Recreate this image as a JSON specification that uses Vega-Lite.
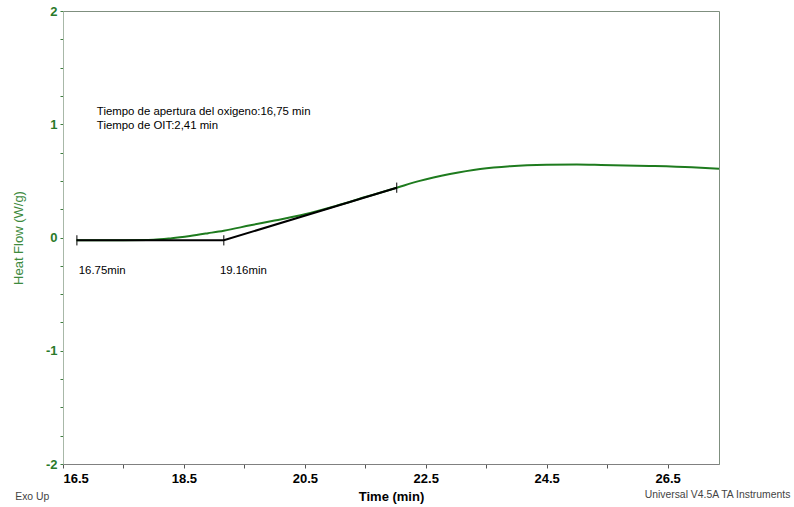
{
  "$schema": "https://vega.github.io/schema/vega-lite/v6.json",
  "width": 656,
  "height": 453,
  "autosize": {"type": "none"},
  "padding": {"left": 63, "top": 11, "right": 75, "bottom": 43},
  "background": "white",
  "config": {
    "font": "Liberation Sans",
    "view": {"stroke": "#7f8f7f", "strokeWidth": 1},
    "axis": {"grid": false}
  },
  "datasets": {
    "curve": [
      {"t": 16.72, "v": -0.025},
      {"t": 17.0, "v": -0.025},
      {"t": 17.5, "v": -0.024},
      {"t": 18.0, "v": -0.02},
      {"t": 18.3, "v": -0.006},
      {"t": 18.6, "v": 0.014},
      {"t": 18.9, "v": 0.038},
      {"t": 19.16, "v": 0.06},
      {"t": 19.6, "v": 0.108},
      {"t": 20.0, "v": 0.15},
      {"t": 20.5, "v": 0.205},
      {"t": 21.0, "v": 0.277},
      {"t": 21.5, "v": 0.357},
      {"t": 22.02, "v": 0.44},
      {"t": 22.4, "v": 0.5},
      {"t": 22.9, "v": 0.56},
      {"t": 23.4, "v": 0.605},
      {"t": 23.9, "v": 0.63},
      {"t": 24.5, "v": 0.642},
      {"t": 25.0, "v": 0.644},
      {"t": 25.4, "v": 0.641},
      {"t": 26.2, "v": 0.632},
      {"t": 26.9, "v": 0.62},
      {"t": 27.35, "v": 0.607}
    ],
    "tangent": [
      {"t": 16.73, "v": -0.025},
      {"t": 19.16, "v": -0.025},
      {"t": 22.02, "v": 0.44}
    ],
    "marks": [
      {"t": 16.73, "lo": -0.07, "hi": 0.02},
      {"t": 19.16, "lo": -0.07, "hi": 0.02},
      {"t": 22.02, "lo": 0.395, "hi": 0.485}
    ],
    "labels": [
      {"t": 16.76, "v": -0.296, "text": "16.75min"},
      {"t": 19.095, "v": -0.296, "text": "19.16min"},
      {"t": 17.06, "v": 1.108, "text": "Tiempo de apertura del oxigeno:16,75 min"},
      {"t": 17.06, "v": 0.985, "text": "Tiempo de OIT:2,41 min"}
    ],
    "footer": [
      {"t": 15.71, "v": -2.29, "text": "Exo Up"},
      {"t": 26.12, "v": -2.27, "text": "Universal V4.5A TA Instruments"}
    ]
  },
  "encoding": {
    "x": {
      "field": "t",
      "type": "quantitative",
      "scale": {"domain": [16.5, 27.35], "nice": false, "zero": false},
      "axis": {
        "title": "Time (min)",
        "titleFont": "Liberation Sans",
        "titleFontSize": 13,
        "titleFontWeight": "bold",
        "titleColor": "black",
        "titlePadding": 5,
        "values": [16.5, 17.5, 18.5, 19.5, 20.5, 21.5, 22.5, 23.5, 24.5, 25.5, 26.5],
        "labelExpr": "round(datum.value - 16.5) % 2 == 0 ? toString(datum.value) : ''",
        "labelFontSize": 13,
        "labelFontWeight": "bold",
        "labelColor": "black",
        "labelPadding": 4,
        "tickSize": 4,
        "tickColor": "#555555",
        "domainColor": "#808080"
      }
    },
    "y": {
      "field": "v",
      "type": "quantitative",
      "scale": {"domain": [-2, 2], "nice": false, "zero": false},
      "axis": {
        "title": "Heat Flow (W/g)",
        "titleFont": "Liberation Sans",
        "titleFontSize": 13,
        "titleFontWeight": "normal",
        "titleColor": "#3d8a3d",
        "titlePadding": 20,
        "values": [-2, -1.75, -1.5, -1.25, -1, -0.75, -0.5, -0.25, 0, 0.25, 0.5, 0.75, 1, 1.25, 1.5, 1.75, 2],
        "labelExpr": "datum.value % 1 == 0 ? toString(datum.value) : ''",
        "labelFontSize": 13,
        "labelFontWeight": "bold",
        "labelColor": "#2a7a2a",
        "labelPadding": 3,
        "tickSize": 3,
        "tickColor": "#3f7f3f",
        "domainColor": "#a8b8a8"
      }
    }
  },
  "layer": [
    {
      "data": {"name": "curve"},
      "mark": {"type": "line", "color": "#1e7b1e", "strokeWidth": 2, "interpolate": "monotone"},
      "encoding": {}
    },
    {
      "data": {"name": "tangent"},
      "mark": {"type": "line", "color": "black", "strokeWidth": 2},
      "encoding": {}
    },
    {
      "data": {"name": "marks"},
      "mark": {"type": "rule", "color": "black", "strokeWidth": 1},
      "encoding": {
        "y": {"field": "lo", "type": "quantitative"},
        "y2": {"field": "hi"}
      }
    },
    {
      "data": {"name": "labels"},
      "mark": {"type": "text", "align": "left", "baseline": "middle", "fontSize": 11.4, "color": "black"},
      "encoding": {"text": {"field": "text"}}
    },
    {
      "data": {"name": "footer"},
      "mark": {"type": "text", "align": "left", "baseline": "middle", "fontSize": 10.4, "color": "#444444"},
      "encoding": {"text": {"field": "text"}}
    }
  ]
}
